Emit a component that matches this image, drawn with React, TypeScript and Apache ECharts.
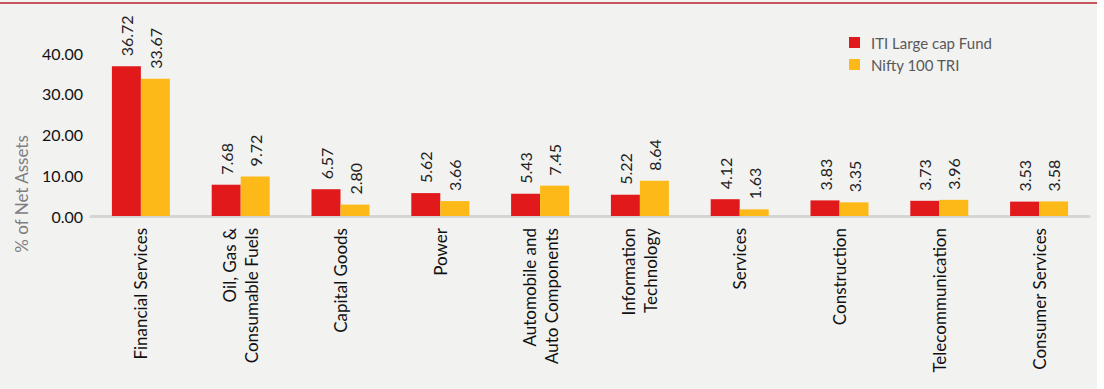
import React, { useEffect, useRef } from "react";
import * as echarts from "echarts";

const categories = [
  "Financial Services",
  "Oil, Gas &\nConsumable Fuels",
  "Capital Goods",
  "Power",
  "Automobile and\nAuto Components",
  "Information\nTechnology",
  "Services",
  "Construction",
  "Telecommunication",
  "Consumer Services",
];
const fundValues = [36.72, 7.68, 6.57, 5.62, 5.43, 5.22, 4.12, 3.83, 3.73, 3.53];
const niftyValues = [33.67, 9.72, 2.8, 3.66, 7.45, 8.64, 1.63, 3.35, 3.96, 3.58];
const seriesNames = ["ITI Large cap Fund", "Nifty 100 TRI"];
const axisTitle = "% of Net Assets";

const FONT = "Lato, 'Open Sans', sans-serif";

export default function App() {
  const ref = useRef<HTMLDivElement>(null);
  useEffect(() => {
    if (!ref.current) return;
    const chart = echarts.init(ref.current, undefined, { renderer: "svg" });
    const valueLabel = {
      show: true,
      position: "top",
      rotate: 90,
      align: "left",
      verticalAlign: "middle",
      distance: 10,
      fontFamily: FONT,
      fontSize: 16,
      color: "#1F1F1F",
      formatter: (p: any) => Number(p.value).toFixed(2),
    };
    chart.setOption({
      animation: false,
      backgroundColor: "#F2F2F1",
      textStyle: { fontFamily: FONT },
      graphic: [
        {
          type: "line",
          shape: { x1: 0, y1: 3, x2: 1097, y2: 3 },
          style: { stroke: "#B8232B", lineWidth: 1.5 },
        },
        {
          type: "text",
          x: 21,
          y: 194,
          rotation: Math.PI / 2,
          style: {
            text: axisTitle,
            fontFamily: FONT,
            fontSize: 17,
            fill: "#7F7F7F",
            textAlign: "center",
            textVerticalAlign: "middle",
          },
        },
      ],
      legend: {
        orient: "vertical",
        left: 844,
        top: 30,
        itemWidth: 11,
        itemHeight: 11,
        itemGap: 7,
        icon: "rect",
        textStyle: {
          fontFamily: FONT,
          fontSize: 15,
          color: "#595959",
          padding: [0, 0, 0, 6],
        },
        data: seriesNames,
      },
      grid: { left: 91, right: 8, top: 53, bottom: 173, containLabel: false },
      xAxis: {
        type: "category",
        data: categories,
        axisLine: { lineStyle: { color: "#D5D5D5", width: 3 } },
        axisTick: { show: false },
        axisLabel: {
          rotate: 90,
          interval: 0,
          margin: 12,
          fontFamily: FONT,
          fontSize: 17,
          lineHeight: 22,
          color: "#111111",
        },
      },
      yAxis: {
        type: "value",
        min: 0,
        max: 40,
        interval: 10,
        axisLine: { show: false },
        axisTick: { show: false },
        splitLine: { show: false },
        axisLabel: {
          margin: 8,
          fontFamily: FONT,
          fontSize: 16,
          color: "#111111",
          formatter: (v: number) => v.toFixed(2),
        },
      },
      series: [
        {
          name: seriesNames[0],
          type: "bar",
          data: fundValues,
          barWidth: 29,
          barGap: "0%",
          itemStyle: { color: "#E2191B" },
          label: valueLabel,
        },
        {
          name: seriesNames[1],
          type: "bar",
          data: niftyValues,
          barWidth: 29,
          barGap: "0%",
          itemStyle: { color: "#FDB918" },
          label: valueLabel,
        },
      ],
    });
    return () => chart.dispose();
  }, []);
  return (
    <div style={{ position: "absolute", left: 0, top: 0, width: 1104, height: 389, background: "#FFFFFF" }}>
      <div ref={ref} style={{ width: 1097, height: 389 }} />
    </div>
  );
}
